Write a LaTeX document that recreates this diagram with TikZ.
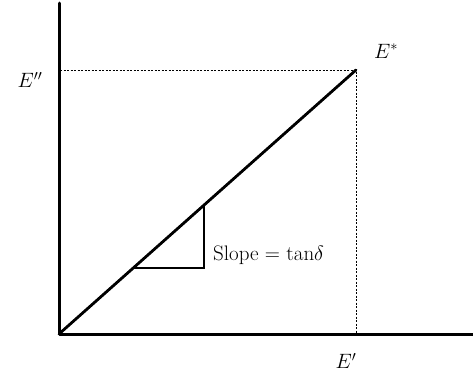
\documentclass[tikz,border=0pt]{standalone}
\begin{document}
\begin{tikzpicture}[x=1pt,y=-1pt,
  axis/.style={line width=3pt,line cap=round,line join=round},
  curve/.style={line width=2.8pt,line cap=round},
  tri/.style={line width=1.8pt},
  guide/.style={line width=0.9pt,dash pattern=on 2pt off 1.5pt},
  lbl/.style={font=\fontsize{21}{25}\selectfont,inner sep=0pt}]
\useasboundingbox (0,0) rectangle (473,381);
\coordinate (O) at (59,334);
\coordinate (Ytop) at (59,3);
\coordinate (Xend) at (473,334);
\coordinate (P) at (356,70);
\coordinate (Py) at (60,70);
\coordinate (Px) at (356,334);
\coordinate (A) at (133,268);
\coordinate (B) at (204,268);
\coordinate (C) at (204,205);
\draw[guide] (Py) -- (P) -- (Px);
\draw[axis] (Ytop) -- (O) -- (Xend);
\draw[curve] (O) -- (P);
\draw[tri] (A) -- (B) -- (C);
\node[lbl] (Epp) at (30,80) {$E''$};
\node[lbl] (Estar) at (386,51) {$E^{*}$};
\node[lbl] (Ep) at (346,361) {$E'$};
\node[lbl,anchor=west] (slope) at (213,255) {Slope = tan$\delta$};
\end{tikzpicture}
\end{document}
